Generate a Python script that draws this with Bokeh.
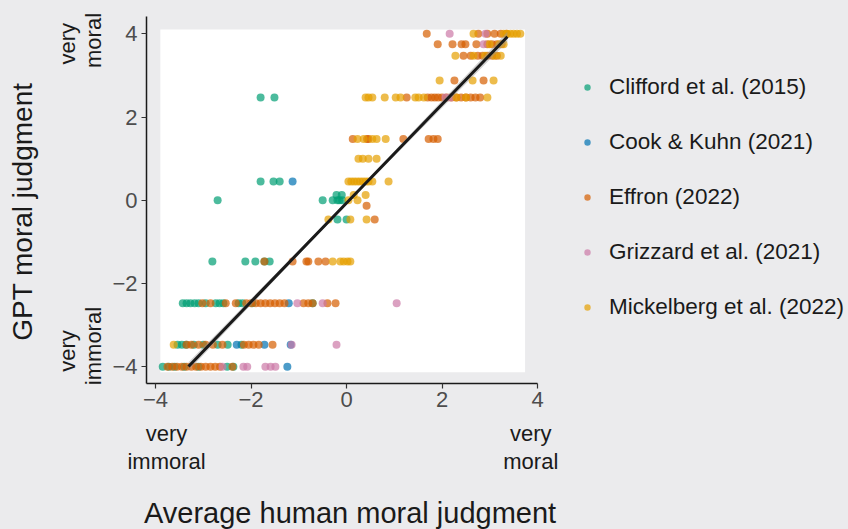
import math
from bokeh.plotting import figure
from bokeh.models import Range1d, FixedTicker, Legend, LegendItem, LinearAxis
from bokeh.embed import file_html
from bokeh.resources import INLINE

# ---------------- data ----------------
study_names = ["Clifford et al. (2015)", "Cook & Kuhn (2021)", "Effron (2022)",
               "Grizzard et al. (2021)", "Mickelberg et al. (2022)"]
study_colors = ["#009E73", "#0072B2", "#D55E00", "#CC79A7", "#E69F00"]

# each entry: (GPT judgment, [average human judgments])
clifford_rows = [
    (-4.0, [-3.85, -3.72, -3.6, -3.4, -3.1, -2.5, -2.37]),
    (-3.47, [-3.54, -3.45, -3.36, -3.2, -3.0, -2.7, -2.49, -2.2]),
    (-2.47, [-3.43, -3.35, -3.27, -3.18, -3.10, -2.95, -2.74, -2.66, -2.58, -2.26, -2.18, -1.97, -0.71]),
    (-1.47, [-2.81, -2.12, -1.91, -1.72, -1.61]),
    (-0.46, [-0.19, 0.0]),
    (0.0, [-2.70, -0.5, -0.29, -0.19, -0.15, -0.09]),
    (0.13, [-0.21, -0.1]),
    (0.45, [-1.8, -1.53, -1.40]),
    (2.47, [-1.80, -1.51]),
]
cook_rows = [
    (-4.0, [-1.24]),
    (-3.47, [-2.3, -1.72, -1.17]),
    (-2.47, [-1.21]),
    (0.45, [-1.13]),
]
effron_rows = [
    (-4.0, [-3.75, -3.65, -3.55, -3.45, -3.35, -3.25, -3.15, -3.05, -2.95, -2.85, -2.75, -2.65, -2.39]),
    (-3.47, [-3.35, -3.25, -3.1, -2.95, -2.8, -2.6, -2.15, -2.05, -1.95, -1.84, -1.55]),
    (-2.47, [-3.02, -2.85, -2.53, -2.32, -2.1, -2.0, -1.9, -1.8, -1.7, -1.6, -1.5, -1.4, -1.3,
             -0.9, -0.8, -0.71, -0.4, -0.23]),
    (-1.47, [-1.72, -1.13, -0.84, -0.8, -0.59, -0.44]),
    (-0.46, [0.59]),
    (-0.13, [0.42]),
    (1.47, [0.13, 0.43, 0.46, 1.19, 1.72, 1.82, 1.91]),
    (2.47, [1.26, 1.70, 1.78, 1.85, 1.92, 2.0, 2.1, 2.2, 2.3, 2.4, 2.5, 2.6, 2.7, 2.8]),
    (2.88, [2.26, 2.87]),
    (3.47, [2.45, 2.60, 2.75, 2.85, 2.95, 3.05, 3.15]),
    (3.75, [1.91, 2.22, 2.41, 2.49, 2.72, 2.95, 3.05, 3.15, 3.25]),
    (4.0, [1.68, 2.76, 2.95, 3.1, 3.23, 3.35]),
]
grizzard_rows = [
    (-4.0, [-2.6, -2.16, -2.08, -1.70, -1.59, -1.49]),
    (-3.47, [-1.15, -0.21]),
    (-2.47, [-1.03, -0.5, 1.05]),
    (2.47, [2.07, 2.18]),
    (3.75, [2.87]),
    (4.0, [2.16, 2.91]),
]
mickelberg_rows = [
    (-3.47, [-3.62]),
    (-1.47, [-0.29, -0.13, -0.06, 0.02, 0.08]),
    (-0.46, [-0.38, 0.08, 0.42]),
    (0.0, [0.04, 0.23]),
    (0.13, [0.15, 0.4]),
    (0.45, [0.04, 0.1, 0.16, 0.22, 0.28, 0.34, 0.40, 0.46, 0.54, 0.88]),
    (1.0, [0.25, 0.34, 0.46, 0.63]),
    (1.47, [0.23, 0.36, 0.54, 0.63, 0.82]),
    (2.47, [0.40, 0.46, 0.54, 0.80, 1.03, 1.13, 1.44, 1.51, 1.62, 2.3, 2.5, 2.95]),
    (2.88, [1.95, 2.64, 3.08]),
    (3.47, [2.28, 2.66, 2.9, 3.1, 3.23]),
    (3.75, [3.0, 3.2, 3.29]),
    (4.0, [2.66, 3.29, 3.36, 3.43, 3.5, 3.57, 3.64]),
]
study_rows = [clifford_rows, cook_rows, effron_rows, grizzard_rows, mickelberg_rows]

# linear fit line with its confidence band
fit_x = [-3.31, 0.0, 3.37]
fit_y = [-3.99, -0.066, 3.93]
fit_lower = [-4.09, -0.10, 3.81]
fit_upper = [-3.89, -0.03, 4.05]

# white panel (data window)
panel_x = [-3.90, 3.74]
panel_y = [-4.13, 4.10]

x_ticks = [-4, -2, 0, 2, 4]
y_ticks = [-4, -2, 0, 2, 4]
tick_labels = ["\u22124", "\u22122", "0", "2", "4"]

# end-of-scale anchors
x_anchor_ticks = [-3.77, 3.86]
x_anchor_line1 = ["very", "very"]
x_anchor_line2 = ["immoral", "moral"]
y_anchor_ticks_outer = [-3.62, 3.76]     # "very"
y_anchor_ticks_inner = [-3.50, 3.84]     # "immoral" / "moral"
y_anchor_line1 = ["very", "very"]
y_anchor_line2 = ["immoral", "moral"]

NBSP = "\u00a0"
x_title = NBSP * 2 + "Average human moral judgment"
y_title = "GPT moral judgment" + NBSP * 3

# ---------------- figure ----------------
BG = "#EBEBED"
FONT = "Liberation Sans"
X_RANGE = (-4.19, 4.0)
Y_RANGE = (-4.40, 4.415)
FRAME_W, FRAME_H = 391, 367
LEFT, TOP = 146, 16
FIG_W, FIG_H = 848, 529

p = figure(frame_width=FRAME_W, frame_height=FRAME_H,
           min_border_left=LEFT, min_border_top=TOP,
           min_border_right=FIG_W - LEFT - FRAME_W,
           min_border_bottom=FIG_H - TOP - FRAME_H,
           x_range=Range1d(*X_RANGE), y_range=Range1d(*Y_RANGE),
           output_backend="svg", toolbar_location=None,
           background_fill_color=BG, border_fill_color=BG)
p.outline_line_color = None
p.grid.visible = False

p.quad(left=[panel_x[0]], right=[panel_x[1]], bottom=[panel_y[0]], top=[panel_y[1]],
       fill_color="white", line_color=None)

renderers = []
for rows, color in zip(study_rows, study_colors):
    xs, ys = [], []
    for yv, xlist in rows:
        for xv in xlist:
            xs.append(xv)
            ys.append(yv)
    r = p.scatter(xs, ys, size=8, fill_color=color, line_color=None, fill_alpha=0.7)
    renderers.append(r)

p.varea(x=fit_x, y1=fit_lower, y2=fit_upper, fill_color="#999999", fill_alpha=0.45)
p.line(fit_x, fit_y, line_color="#1a1a1a", line_width=3)

for ax, ticks in ((p.xaxis[0], x_ticks), (p.yaxis[0], y_ticks)):
    ax.ticker = FixedTicker(ticks=ticks)
    ax.major_label_overrides = {t: lab for t, lab in zip(ticks, tick_labels)}
    ax.axis_line_color = "#1a1a1a"
    ax.axis_line_width = 1.5
    ax.major_tick_line_color = "#333333"
    ax.major_tick_line_width = 1.2
    ax.major_tick_in = 0
    ax.major_tick_out = 5
    ax.minor_tick_line_color = None
    ax.major_label_text_font = FONT
    ax.major_label_text_font_size = "22px"
    ax.major_label_text_color = "#4D4D4D"
p.xaxis.major_label_standoff = 3
p.yaxis.major_label_standoff = 4


def anchor_axis(ticks, labels, standoff, orientation="horizontal"):
    ax = LinearAxis(ticker=FixedTicker(ticks=ticks),
                    major_label_overrides={t: lab for t, lab in zip(ticks, labels)},
                    axis_line_color=None, major_tick_line_color=None,
                    minor_tick_line_color=None, major_tick_in=0, major_tick_out=0,
                    major_label_standoff=standoff,
                    major_label_orientation=orientation,
                    major_label_text_font=FONT, major_label_text_font_size="22px",
                    major_label_text_color="#1a1a1a")
    return ax


def style_title(ax, text, standoff, size):
    ax.axis_label = text
    ax.axis_label_standoff = standoff
    ax.axis_label_text_font = FONT
    ax.axis_label_text_font_size = size
    ax.axis_label_text_font_style = "normal"
    ax.axis_label_text_color = "#1a1a1a"


# bottom: "very" line, then "immoral"/"moral" line, then title
xa1 = anchor_axis(x_anchor_ticks, x_anchor_line1, 11)
xa2 = anchor_axis(x_anchor_ticks, x_anchor_line2, 0)
# left: "moral"/"immoral" line (inner), "very" line (outer), then title
ya1 = anchor_axis(y_anchor_ticks_inner, y_anchor_line2, 3, orientation="parallel")
ya2 = anchor_axis(y_anchor_ticks_outer, y_anchor_line1, -2, orientation="parallel")
style_title(xa2, x_title, 20, "29px")
style_title(ya2, y_title, 15, "28px")
p.add_layout(xa1, "below")
p.add_layout(xa2, "below")
p.add_layout(ya1, "left")
p.add_layout(ya2, "left")

# legend on the right side
items = [LegendItem(label=n, renderers=[r]) for n, r in zip(study_names, renderers)]
legend = Legend(items=items, location=(42, 61), orientation="vertical",
                glyph_width=16, glyph_height=30, label_height=30,
                label_standoff=14, spacing=25, padding=0, margin=0,
                background_fill_alpha=0, border_line_color=None,
                label_text_font=FONT, label_text_font_size="22.5px",
                label_text_color="#1a1a1a")
p.add_layout(legend, "right")

html = file_html(p, INLINE)
html = html.replace("<head>", "<head><style>body{background:%s;}</style>" % BG, 1)
open("out.html", "w").write(html)
